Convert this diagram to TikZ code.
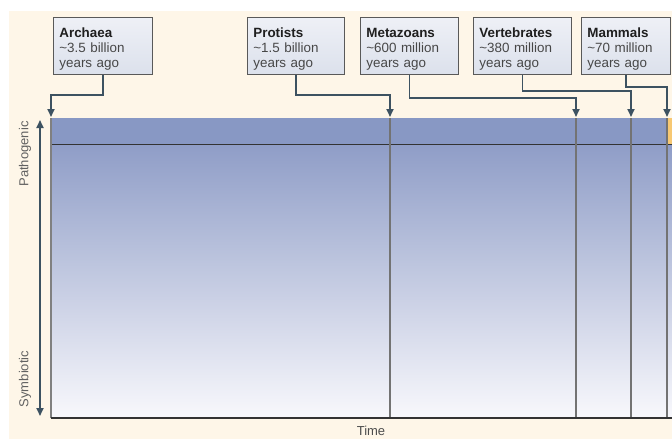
\documentclass[tikz,border=0pt]{standalone}
\usepackage{fontspec}
\setmainfont{Liberation Sans}
\usetikzlibrary{arrows.meta}
\definecolor{cream}{HTML}{FEF6E8}
\definecolor{slate}{HTML}{3D5261}
\definecolor{bandblue}{HTML}{8898C4}
\definecolor{fieldtop}{HTML}{8F9DC7}
\definecolor{fieldbottom}{HTML}{F8F8FC}
\definecolor{boxtop}{HTML}{EEF0F6}
\definecolor{boxbottom}{HTML}{DCE1EC}
\definecolor{mammalorange}{HTML}{F7C873}

\begin{document}
\begin{tikzpicture}[x=1pt, y=-1pt,
		era/.style={draw=black!65, line width=0.8pt, top color=boxtop, bottom color=boxbottom, anchor=north west, minimum height=57pt, text width=#1, text height=16pt, inner xsep=6pt, align=left, font=\fontsize{13.4}{15}\selectfont, text=black!72},
		link/.style={draw=slate, line width=1.8pt, -{Triangle[length=8pt, width=7pt]}},
		axislabel/.style={rotate=90, text=black!62, font=\fontsize{13}{15}\selectfont},
		divider/.style={draw=black!55, line width=1.2pt}]
			%%%%% START %%%%%
			\useasboundingbox (0, 0) rectangle (672, 439);
			\fill[white] (0, 0) rectangle (672, 439);
			\fill[cream] (9, 11) rectangle (672, 439);
			
			% plot field
			\shade[top color=fieldtop, bottom color=fieldbottom] (51, 144) rectangle (672, 418);
			\fill[bandblue] (51, 118) rectangle (672, 144);
			\fill[mammalorange] (667, 118) rectangle (672, 144);
			\draw[line width=1pt, color=black!80] (51, 144) -- (672, 144);
			\draw[divider] (390, 118) -- (390, 418);
			\draw[divider] (576, 118) -- (576, 418);
			\draw[divider] (631, 118) -- (631, 418);
			\draw[divider] (667, 118) -- (667, 418);
			\draw[line width=1.2pt, color=black!50] (51, 118) -- (51, 418);
			\draw[line width=1.4pt, color=black!80] (51, 418) -- (672, 418);
			
			% eras
			\node[era=87pt] (archaea) at (53, 17) {\textbf{\color{black!88}Archaea}\\\textasciitilde 3.5 billion\\years ago};
			\node[era=85pt] (protists) at (247, 17) {\textbf{\color{black!88}Protists}\\\textasciitilde 1.5 billion\\years ago};
			\node[era=86pt] (metazoans) at (360, 17) {\textbf{\color{black!88}Metazoans}\\\textasciitilde 600 million\\years ago};
			\node[era=86pt] (vertebrates) at (473, 17) {\textbf{\color{black!88}Vertebrates}\\\textasciitilde 380 million\\years ago};
			\node[era=77pt] (mammals) at (581, 17) {\textbf{\color{black!88}Mammals}\\\textasciitilde 70 million\\years ago};
			
			\coordinate (archaeaT) at (51, 117);
			\coordinate (protistsT) at (390, 117);
			\coordinate (metazoansT) at (576, 117);
			\coordinate (vertebratesT) at (631, 117);
			\coordinate (mammalsT) at (667, 117);
			
			\draw[link] (archaea.south) -- ++(0, 20) -| (archaeaT);
			\draw[link] (protists.south) -- ++(0, 20) -| (protistsT);
			\draw[link] (metazoans.south) -- ++(0, 23) -| (metazoansT);
			\draw[link] (vertebrates.south) -- ++(0, 16) -| (vertebratesT);
			\draw[link] (mammals.south) -- ++(0, 12) -| (mammalsT);
			
			% axes
			\coordinate (pathTop) at (40, 120);
			\coordinate (symBottom) at (40, 416);
			\draw[draw=slate, line width=1.8pt, {Triangle[length=8pt, width=7pt]}-{Triangle[length=8pt, width=7pt]}] (pathTop) -- (symBottom);
			\node[axislabel] (pathogenic) at (25, 154) {Pathogenic};
			\node[axislabel] (symbiotic) at (25, 379) {Symbiotic};
			\node[text=black!70, font=\fontsize{13}{15}\selectfont] (time) at (371, 431) {Time};
			%%%%% END %%%%%
		\end{tikzpicture}
\end{document}
